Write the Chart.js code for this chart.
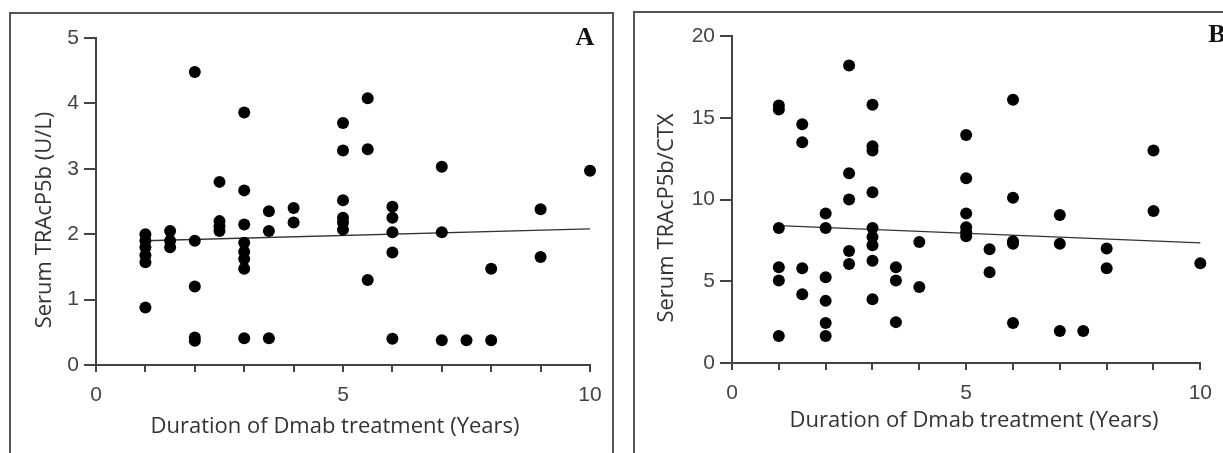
<!DOCTYPE html>
<html>
<head>
<meta charset="utf-8">
<script src="https://cdn.jsdelivr.net/npm/chart.js@4.4.0/dist/chart.umd.min.js"></script>
<style>
  body { margin: 0; width: 1223px; height: 453px; overflow: hidden; background: #fff; position: relative; }
  .frame { position: absolute; box-sizing: border-box; border: 2px solid #555; border-bottom: none; }
  #frameA { left: 9px; top: 12px; width: 605px; height: 460px; }
  #frameB { left: 633px; top: 11px; width: 700px; height: 460px; }
  canvas { position: absolute; top: 0; }
  #chartA { left: 0; }
  #chartB { left: 620px; }
</style>
</head>
<body>
<div class="frame" id="frameA"></div>
<div class="frame" id="frameB"></div>
<canvas id="chartA" width="620" height="453"></canvas>
<canvas id="chartB" width="603" height="453"></canvas>
<script>
// panel A: serum TRAcP5b (U/L) per patient vs years of Dmab
const yearsA = [
  1, 1, 1, 1, 1, 1,
  1.5, 1.5, 1.5,
  2, 2, 2, 2, 2,
  2.5, 2.5, 2.5, 2.5,
  3, 3, 3, 3, 3, 3, 3, 3,
  3.5, 3.5, 3.5,
  4, 4,
  5, 5, 5, 5, 5, 5,
  5.5, 5.5, 5.5,
  6, 6, 6, 6, 6,
  7, 7, 7,
  7.5,
  8, 8,
  9, 9,
  10
];
const trapA = [
  2.0, 1.9, 1.8, 1.68, 1.57, 0.88,
  2.05, 1.9, 1.8,
  4.48, 1.9, 1.2, 0.42, 0.37,
  2.8, 2.2, 2.12, 2.05,
  3.86, 2.67, 2.15, 1.87, 1.73, 1.62, 1.47, 0.41,
  2.35, 2.05, 0.41,
  2.4, 2.18,
  3.7, 3.28, 2.52, 2.25, 2.18, 2.07,
  4.08, 3.3, 1.3,
  2.42, 2.25, 2.03, 1.72, 0.4,
  3.03, 2.03, 0.38,
  0.38,
  1.47, 0.38,
  2.38, 1.65,
  2.97
];
const fitYearsA = [1, 10];
const fitTrapA = [1.9, 2.08];

// panel B: TRAcP5b/CTX ratio
const yearsB = [
  1, 1, 1, 1, 1, 1,
  1.5, 1.5, 1.5, 1.5,
  2, 2, 2, 2, 2, 2,
  2.5, 2.5, 2.5, 2.5, 2.5,
  3, 3, 3, 3, 3, 3, 3, 3, 3,
  3.5, 3.5, 3.5,
  4, 4,
  5, 5, 5, 5, 5, 5,
  5.5, 5.5,
  6, 6, 6, 6, 6,
  7, 7, 7,
  7.5,
  8, 8,
  9, 9,
  10
];
const ratioB = [
  15.75, 15.5, 8.25, 5.85, 5.05, 1.65,
  14.6, 13.5, 5.8, 4.2,
  9.15, 8.25, 5.25, 3.8, 2.45, 1.65,
  18.2, 11.6, 10.0, 6.85, 6.05,
  15.8, 13.25, 13.0, 10.45, 8.25, 7.7, 7.2, 6.25, 3.9,
  5.85, 5.05, 2.5,
  7.4, 4.65,
  13.95, 11.3, 9.15, 8.3, 8.0, 7.75,
  6.95, 5.55,
  16.1, 10.1, 7.45, 7.3, 2.45,
  9.05, 7.3, 1.95,
  1.95,
  7.0, 5.8,
  13.0, 9.3,
  6.1
];
const fitYearsB = [1, 10];
const fitRatioB = [8.4, 7.35];

const xLabelEvery = 5;
const xTitle = 'Duration of Dmab treatment (Years)';

// axis titles + panel letter, drawn by hand so they sit a bit off-centre like the original
const panelText = {
  id: 'panelText',
  afterDraw(chart, args, o) {
    const ctx = chart.ctx;
    ctx.save();
    ctx.fillStyle = '#333';
    ctx.textAlign = 'center';
    ctx.textBaseline = 'middle';
    ctx.font = '22px "Open Sans"';
    ctx.fillText(xTitle, o.xTitleX, o.xTitleY);
    ctx.translate(o.titleX, o.titleY);
    ctx.rotate(-Math.PI / 2);
    ctx.fillText(o.title, 0, 0);
    ctx.restore();

    ctx.save();
    ctx.fillStyle = '#111';
    ctx.textAlign = 'center';
    ctx.textBaseline = 'middle';
    ctx.font = 'bold 26px "Liberation Serif"';
    ctx.fillText(o.letter, o.letterX, o.letterY);
    ctx.restore();
  }
};

function toPoints(xs, ys) {
  const pts = [];
  for (let i = 0; i < xs.length; i++) {
    pts.push({ x: xs[i], y: ys[i] });
  }
  return pts;
}

function makeChart(canvasId, xs, ys, fitX, fitY, yMax, yStep, s) {
  new Chart(document.getElementById(canvasId), {
    type: 'scatter',
    data: {
      datasets: [
        {
          data: toPoints(xs, ys),
          backgroundColor: '#000',
          borderWidth: 0,
          pointRadius: 6,
          pointHoverRadius: 6,
          clip: false,
          order: 1
        },
        {
          data: toPoints(fitX, fitY),
          showLine: true,
          borderColor: '#333',
          borderWidth: 1.3,
          pointRadius: 0,
          pointHoverRadius: 0,
          clip: false,
          order: 2
        }
      ]
    },
    options: {
      responsive: false,
      animation: false,
      events: [],
      layout: { padding: { left: 0, top: s.top, right: s.right, bottom: 0 } },
      plugins: {
        legend: { display: false },
        tooltip: { enabled: false },
        panelText: s.text
      },
      scales: {
        x: {
          type: 'linear',
          min: 0,
          max: 10,
          afterFit: scale => { scale.height = s.xHeight; },
          border: { color: '#444', width: 2 },
          grid: { drawOnChartArea: false, tickLength: 7, color: '#444', lineWidth: 2 },
          ticks: {
            stepSize: 1,
            autoSkip: false,
            maxRotation: 0,
            padding: 11,
            color: '#444',
            font: { family: 'Liberation Sans', size: 21 },
            callback: v => (v % xLabelEvery === 0 ? v : '')
          }
        },
        y: {
          type: 'linear',
          min: 0,
          max: yMax,
          afterFit: scale => { scale.width = s.yWidth; },
          border: { color: '#444', width: 2 },
          grid: { drawOnChartArea: false, tickLength: 12, color: '#444', lineWidth: 2 },
          ticks: {
            stepSize: yStep,
            padding: 5,
            color: '#444',
            font: { family: 'Liberation Sans', size: 21 }
          }
        }
      }
    },
    plugins: [panelText]
  });
}

makeChart('chartA', yearsA, trapA, fitYearsA, fitTrapA, 5, 1, {
  top: 38, right: 30, xHeight: 88, yWidth: 96,
  text: {
    title: 'Serum TRAcP5b (U/L)', titleX: 45, titleY: 220,
    xTitleX: 335, xTitleY: 427,
    letter: 'A', letterX: 585, letterY: 38
  }
});

makeChart('chartB', yearsB, ratioB, fitYearsB, fitRatioB, 20, 5, {
  top: 36, right: 15, xHeight: 90, yWidth: 112,
  text: {
    title: 'Serum TRAcP5b/CTX', titleX: 47, titleY: 218,
    xTitleX: 354, xTitleY: 421,
    letter: 'B', letterX: 597, letterY: 35
  }
});
</script>
</body>
</html>
